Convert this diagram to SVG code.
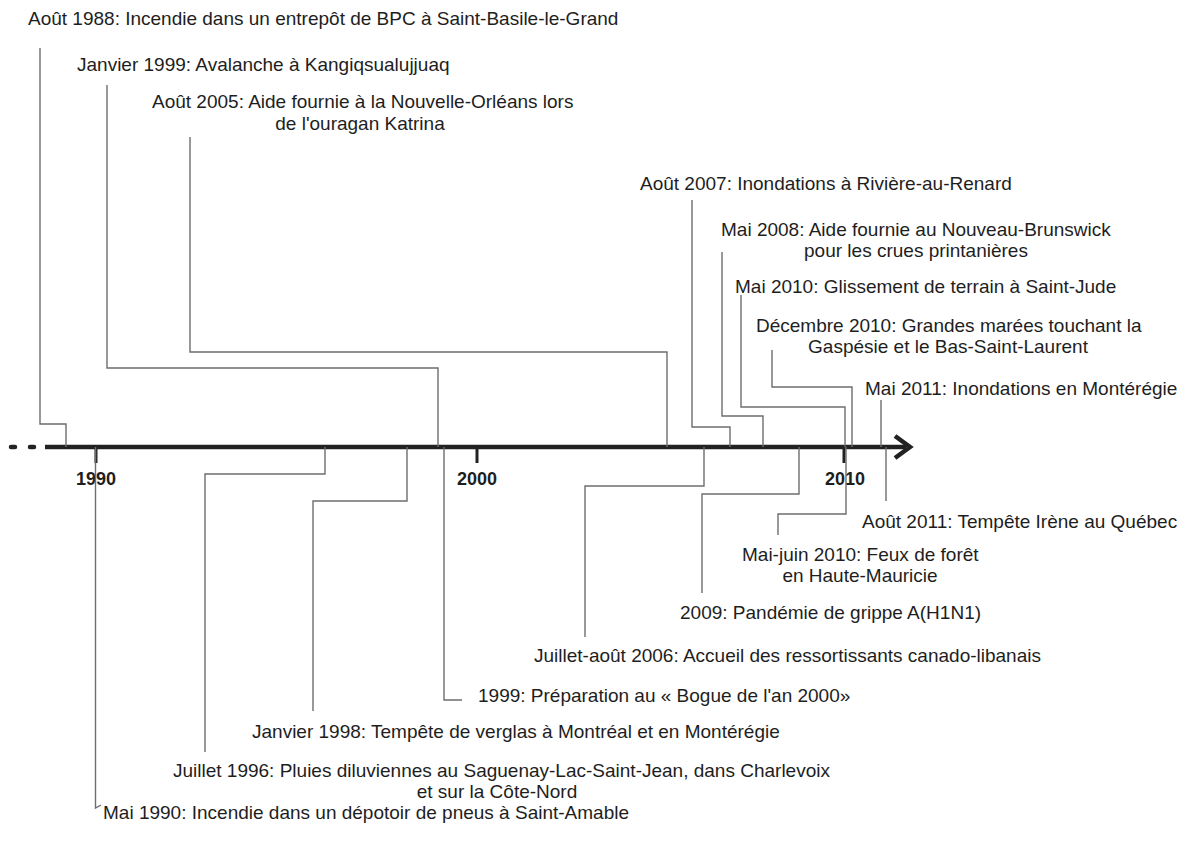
<svg xmlns="http://www.w3.org/2000/svg" width="1192" height="843" viewBox="0 0 1192 843">
  <style>
    .lbl { font-family: "Liberation Sans", Arial, sans-serif; font-size: 19px; fill: #1e1e1e; }
    .mid { text-anchor: middle; }
    .yr { font-family: "Liberation Sans", Arial, sans-serif; font-size: 18px; font-weight: bold; fill: #1e1e1e; text-anchor: middle; }
    .conn { fill: none; stroke: #6e6e6e; stroke-width: 1.4; }
    .axis { fill: none; stroke: #222; stroke-width: 4.5; }
    .tick { stroke: #222; stroke-width: 3; }
  </style>
  <rect width="1192" height="843" fill="#ffffff"/>

  <!-- time axis -->
  <g id="axis">
    <line x1="11" y1="447" x2="15" y2="447" class="axis" stroke-width="6.5" stroke-linecap="round"/>
    <line x1="30" y1="447" x2="34" y2="447" class="axis" stroke-width="6.5" stroke-linecap="round"/>
    <line x1="45" y1="447" x2="906" y2="447" class="axis"/>
    <polyline points="895,436 910,447 895,458" class="axis" stroke-width="5"/>
    <line x1="96" y1="447" x2="96" y2="463" class="tick"/>
    <line x1="477" y1="447" x2="477" y2="463" class="tick"/>
    <line x1="844" y1="447" x2="844" y2="463" class="tick"/>
    <text x="96" y="485" class="yr">1990</text>
    <text x="477" y="485" class="yr">2000</text>
    <text x="845" y="485" class="yr">2010</text>
  </g>

  <!-- connectors from each event to its date on the axis -->
  <g id="connectors">
    <polyline class="conn" points="40,48 40,424 66,424 66,447"/>
    <polyline class="conn" points="107,85 107,368 438,368 438,447"/>
    <polyline class="conn" points="190,137 190,352 667,352 667,447"/>
    <polyline class="conn" points="692,200 692,427 730,427 730,447"/>
    <polyline class="conn" points="722,252 722,416 763,416 763,447"/>
    <polyline class="conn" points="741,295 741,407 845,407 845,447"/>
    <polyline class="conn" points="772,350 772,387 852,387 852,447"/>
    <polyline class="conn" points="881,400 881,447"/>

    <polyline class="conn" points="95.5,447 95.5,808 101,805"/>
    <polyline class="conn" points="325,447 325,474 205,474 205,752"/>
    <polyline class="conn" points="407,447 407,501 313,501 313,711"/>
    <polyline class="conn" points="444,447 444,700 462,700"/>
    <polyline class="conn" points="704,447 704,486 585,486 585,637"/>
    <polyline class="conn" points="799,447 799,494 702,494 702,593"/>
    <polyline class="conn" points="846,447 846,514 778,514 778,535"/>
    <polyline class="conn" points="886,447 886,501"/>
  </g>

  <!-- events above the axis -->
  <g id="ev-1988-08"><text x="28" y="25" class="lbl">Août 1988: Incendie dans un entrepôt de BPC à Saint-Basile-le-Grand</text></g>
  <g id="ev-1999-01"><text x="77" y="71" class="lbl">Janvier 1999: Avalanche à Kangiqsualujjuaq</text></g>
  <g id="ev-2005-08">
    <text x="152" y="108" class="lbl">Août 2005: Aide fournie à la Nouvelle-Orléans lors</text>
    <text x="360" y="130" class="lbl mid">de l'ouragan Katrina</text>
  </g>
  <g id="ev-2007-08"><text x="640" y="190" class="lbl">Août 2007: Inondations à Rivière-au-Renard</text></g>
  <g id="ev-2008-05">
    <text x="721" y="236" class="lbl">Mai 2008: Aide fournie au Nouveau-Brunswick</text>
    <text x="916" y="257" class="lbl mid">pour les crues printanières</text>
  </g>
  <g id="ev-2010-05"><text x="735" y="293" class="lbl">Mai 2010: Glissement de terrain à Saint-Jude</text></g>
  <g id="ev-2010-12">
    <text x="756" y="332" class="lbl">Décembre 2010: Grandes marées touchant la</text>
    <text x="948" y="353" class="lbl mid">Gaspésie et le Bas-Saint-Laurent</text>
  </g>
  <g id="ev-2011-05"><text x="865" y="395" class="lbl">Mai 2011: Inondations en Montérégie</text></g>

  <!-- events below the axis -->
  <g id="ev-2011-08"><text x="862" y="528" class="lbl">Août 2011: Tempête Irène au Québec</text></g>
  <g id="ev-2010-0506">
    <text x="742" y="561" class="lbl">Mai-juin 2010: Feux de forêt</text>
    <text x="860" y="582" class="lbl mid">en Haute-Mauricie</text>
  </g>
  <g id="ev-2009"><text x="680" y="619" class="lbl">2009: Pandémie de grippe A(H1N1)</text></g>
  <g id="ev-2006-0708"><text x="534" y="662" class="lbl">Juillet-août 2006: Accueil des ressortissants canado-libanais</text></g>
  <g id="ev-1999"><text x="478" y="702" class="lbl">1999: Préparation au « Bogue de l'an 2000»</text></g>
  <g id="ev-1998-01"><text x="252" y="738" class="lbl">Janvier 1998: Tempête de verglas à Montréal et en Montérégie</text></g>
  <g id="ev-1996-07">
    <text x="173" y="777" class="lbl">Juillet 1996: Pluies diluviennes au Saguenay-Lac-Saint-Jean, dans Charlevoix</text>
    <text x="497" y="798" class="lbl mid">et sur la Côte-Nord</text>
  </g>
  <g id="ev-1990-05"><text x="103" y="819" class="lbl">Mai 1990: Incendie dans un dépotoir de pneus à Saint-Amable</text></g>
</svg>
